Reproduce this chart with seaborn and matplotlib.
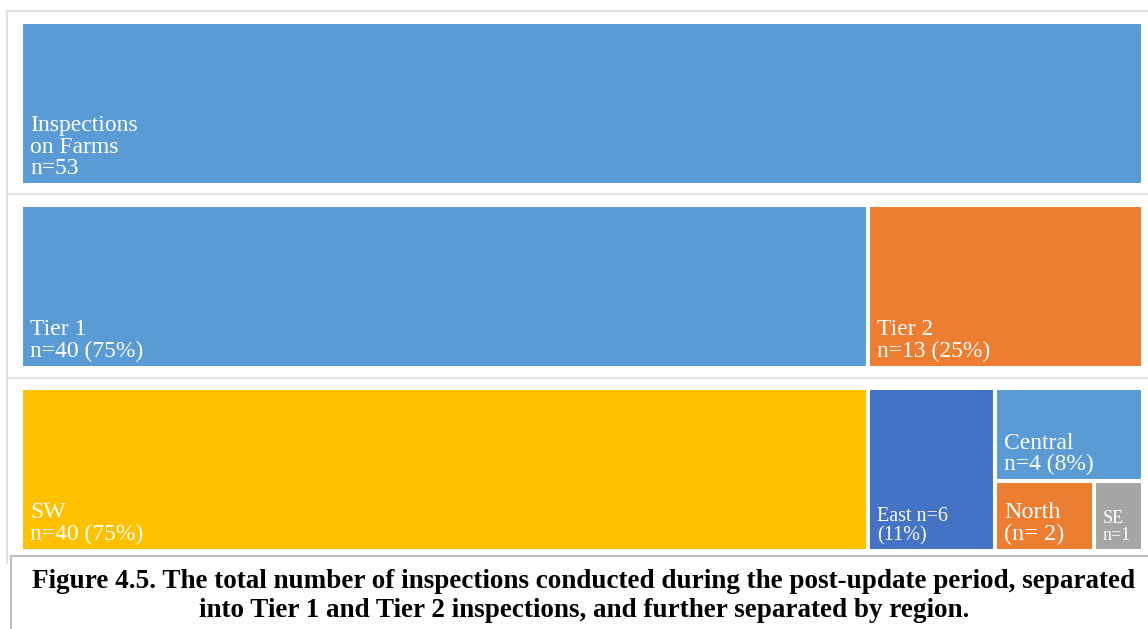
import seaborn as sns
import matplotlib.pyplot as plt
from matplotlib.patches import Rectangle
from matplotlib.lines import Line2D

# ---- data -------------------------------------------------------------
total_name = "Inspections\non Farms"
total_n = 53

tiers = ["Tier 1", "Tier 2"]
tier_n = [40, 13]
tier_pct = [75, 25]

regions = ["SW", "East", "Central", "North", "SE"]
region_n = [40, 6, 4, 2, 1]
region_labels = ["SW\nn=40 (75%)", "East n=6\n(11%)", "Central\nn=4 (8%)",
                 "North\n(n= 2)", "SE\nn=1"]

caption = ("Figure 4.5. The total number of inspections conducted during the post-update period, separated\n"
           "into Tier 1 and Tier 2 inspections, and further separated by region.")

# ---- style ------------------------------------------------------------
sns.set_theme(style="white")
plt.rcParams["font.family"] = ["Liberation Serif", "DejaVu Serif"]

blue, orange, yellow, navy, grey = sns.color_palette(
    ["#5B9BD5", "#ED7D31", "#FFC000", "#4472C4", "#A5A5A5"])
tier_colors = [blue, orange]
region_colors = [yellow, navy, blue, orange, grey]

W, H = 1148, 629
fig = plt.figure(figsize=(W / 100, H / 100), dpi=100)
fig.patch.set_facecolor("white")


def fx(px):
    return px / W


def fy(py):
    return 1 - py / H


# outer frame and row separators
frame_c = "#d9d9d9"
fig.add_artist(Line2D([fx(7), fx(W)], [fy(11), fy(11)], color=frame_c, lw=1.2))
fig.add_artist(Line2D([fx(7), fx(7)], [fy(11), fy(563)], color=frame_c, lw=1.2))
for py in (194, 378):
    fig.add_artist(Line2D([fx(8), fx(W)], [fy(py), fy(py)], color="#e4e4e4", lw=1.6))

# treemap axes
ax = fig.add_axes([fx(21), fy(551), fx(1143) - fx(21), fy(22) - fy(551)])
ax.set_axis_off()
row_h = 1.0
gap = 20 / 163
ax.set_xlim(0, total_n)
ax.set_ylim(3 * row_h + 2 * gap, 0)


def tile(x, y, w, h, color, label, size, lines=1.03):
    ax.add_patch(Rectangle((x, y), w, h, facecolor=color, edgecolor="white", lw=2.9))
    ax.annotate(label, xy=(x, y + h), xytext=(9, 11), textcoords="offset pixels",
                ha="left", va="baseline", color="white", fontsize=size,
                linespacing=lines)


# row 1: everything
tile(0, 0, total_n, row_h, blue, f"{total_name}\nn={total_n}", 17)

# row 2: tiers
y1 = row_h + gap
x = 0
for name, n, pct, c in zip(tiers, tier_n, tier_pct, tier_colors):
    tile(x, y1, n, row_h, c, f"{name}\nn={n} ({pct}%)", 17)
    x += n

# row 3: regions (two full-height tiles, then a stacked block)
y2 = 2 * (row_h + gap)
sizes = [17, 14.5, 17, 17.5, 13]
spacing = [1.03, 1.0, 1.0, 1.03, 1.02]
x = 0
for i in range(2):
    tile(x, y2, region_n[i], row_h, region_colors[i], region_labels[i], sizes[i], spacing[i])
    x += region_n[i]
block_w = sum(region_n[2:])
top_h = row_h * region_n[2] / block_w
tile(x, y2, block_w, top_h, region_colors[2], region_labels[2], sizes[2], spacing[2])
bx = x
for i in (3, 4):
    w = block_w * region_n[i] / sum(region_n[3:])
    tile(bx, y2 + top_h, w, row_h - top_h, region_colors[i], region_labels[i],
         sizes[i], spacing[i])
    bx += w

# caption box
fig.add_artist(Rectangle((fx(11), fy(H + 5)), fx(W + 10) - fx(11), fy(556) - fy(H + 5),
                         facecolor="white", edgecolor="#bfbfbf", lw=1.6))
fig.text(fx(584), fy(596), caption, ha="center", va="center", fontsize=19.5,
         fontweight="bold", color="black", linespacing=1.24)

fig.savefig("out.png", dpi=100, facecolor="white")
